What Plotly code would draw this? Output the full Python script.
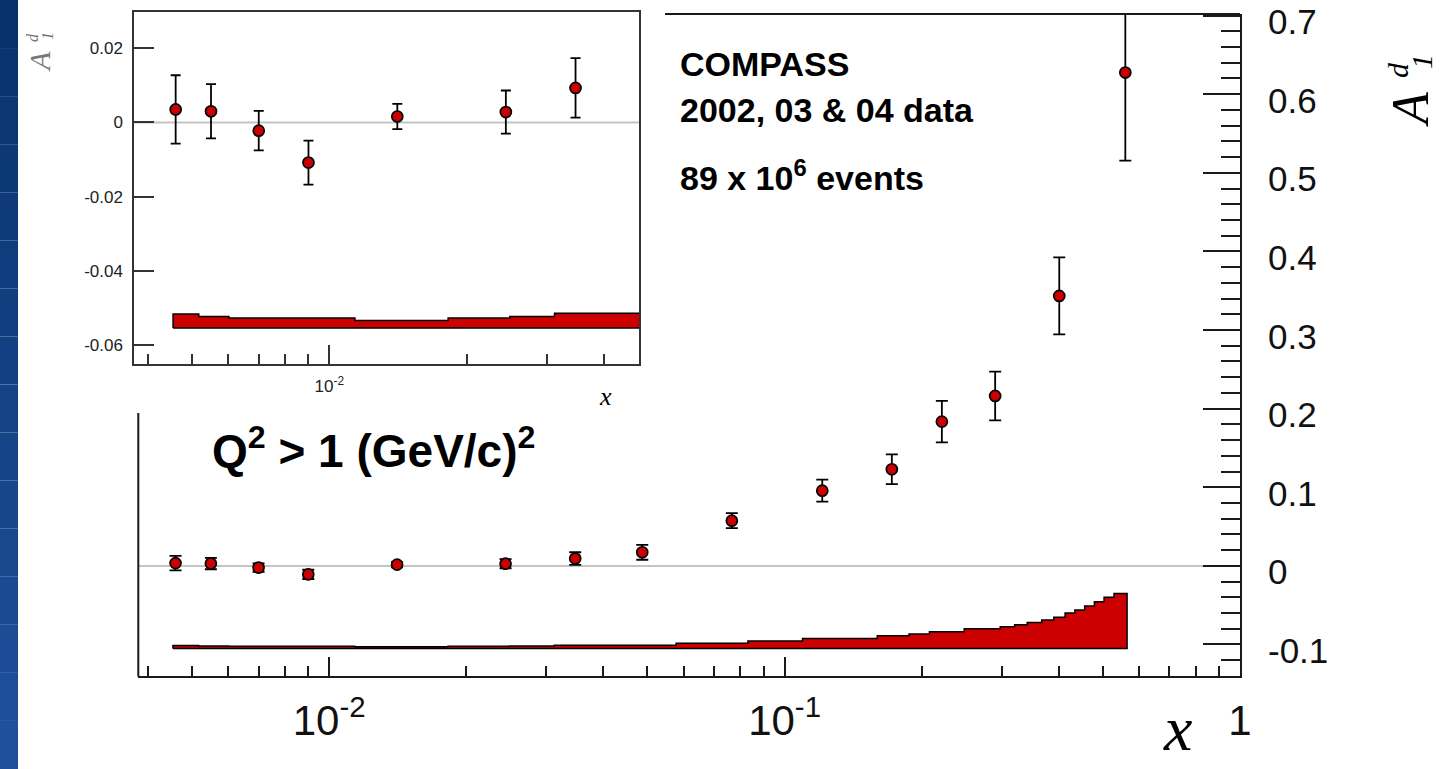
import plotly.graph_objects as go

# ---------------- data ----------------
x_bins = [0.0046, 0.0055, 0.0070, 0.0090, 0.0141, 0.0244, 0.0347, 0.0487,
          0.0766, 0.121, 0.172, 0.2215, 0.290, 0.401, 0.560]
A1d = [0.0035, 0.0030, -0.0022, -0.0108, 0.0016, 0.0028, 0.0093, 0.0173,
       0.0575, 0.0957, 0.1229, 0.1835, 0.2162, 0.3434, 0.6275]
stat_err = [0.0092, 0.0073, 0.0053, 0.0059, 0.0034, 0.0058, 0.0080, 0.0095,
            0.0096, 0.014, 0.019, 0.0265, 0.031, 0.049, 0.112]

# systematic-error band (histogram): bin edges and heights
sys_edges = [0.00454, 0.00517, 0.00602, 0.01138, 0.01823, 0.0249, 0.0312, 0.0578,
             0.0831, 0.1095, 0.1598, 0.1876, 0.208, 0.248, 0.2975, 0.320, 0.341,
             0.367, 0.390, 0.413, 0.434, 0.456, 0.479, 0.503, 0.529, 0.565]
sys_vals = [0.0038, 0.0031, 0.0027, 0.0020, 0.0027, 0.0031, 0.0040, 0.0065,
            0.0095, 0.0125, 0.0160, 0.0184, 0.0213, 0.0250, 0.0277, 0.0300,
            0.0330, 0.0362, 0.0396, 0.0450, 0.0490, 0.0540, 0.0595, 0.0650, 0.0700]
sys_base_main = -0.105
sys_base_inset = -0.0553
n_inset = 7

main_ytick_vals = [-0.1, 0.0, 0.1, 0.2, 0.3, 0.4, 0.5, 0.6, 0.7]
main_ytick_text = ["-0.1", "0", "0.1", "0.2", "0.3", "0.4", "0.5", "0.6", "0.7"]
left_major_vals = [-0.1, 0.0, 0.1]
left_minor_vals = [-0.12, -0.08, -0.06, -0.04, -0.02, 0.02, 0.04, 0.06, 0.08,
                   0.12, 0.14, 0.16, 0.18]
main_xtick_vals = [0.01, 0.1, 1.0]
main_xtick_text = ["10<sup>-2</sup>", "10<sup>-1</sup>", "1"]
main_xminor_vals = [0.004, 0.005, 0.006, 0.007, 0.008, 0.009,
                    0.02, 0.03, 0.04, 0.05, 0.06, 0.07, 0.08, 0.09,
                    0.2, 0.3, 0.4, 0.5, 0.6, 0.7, 0.8, 0.9]
inset_ytick_vals = [-0.06, -0.04, -0.02, 0.0, 0.02]
inset_ytick_text = ["-0.06", "-0.04", "-0.02", "0", "0.02"]
inset_xtick_vals = [0.01]
inset_xtick_text = ["10<sup>-2</sup>"]
inset_xminor_vals = [0.004, 0.005, 0.006, 0.007, 0.008, 0.009, 0.02, 0.03, 0.04]

# ---------------- geometry helpers ----------------
W, H = 1445, 769
def px(x):
    return x / W
def py(y):
    return 1 - y / H

SANS = "Liberation Sans, Arial, sans-serif"
SERIF = "Liberation Serif, Times New Roman, serif"
RED = "#cc0000"
AX = "#1a1a1a"


def band_xy(edges, vals, base):
    xs, ys = [edges[0]], [base]
    for i, v in enumerate(vals):
        xs += [edges[i], edges[i + 1]]
        ys += [base + v, base + v]
    xs += [edges[-1], edges[0]]
    ys += [base, base]
    return xs, ys


fig = go.Figure()

# main band
bx, by = band_xy(sys_edges, sys_vals, sys_base_main)
fig.add_trace(go.Scatter(x=bx, y=by, mode="lines", fill="toself", fillcolor=RED,
                         line=dict(color="black", width=1.5), xaxis="x", yaxis="y",
                         hoverinfo="skip", showlegend=False))
# main points
fig.add_trace(go.Scatter(x=x_bins, y=A1d, mode="markers", xaxis="x", yaxis="y",
                         marker=dict(size=11, color=RED, line=dict(color="black", width=1.7)),
                         error_y=dict(type="data", array=stat_err, color="black",
                                      thickness=1.8, width=6),
                         showlegend=False))
# inset band
ibx, iby = band_xy(sys_edges, sys_vals, sys_base_inset)
fig.add_trace(go.Scatter(x=ibx, y=iby, mode="lines", fill="toself", fillcolor=RED,
                         line=dict(color="black", width=1.5), xaxis="x2", yaxis="y2",
                         hoverinfo="skip", showlegend=False))
# inset points
fig.add_trace(go.Scatter(x=x_bins[:n_inset], y=A1d[:n_inset], mode="markers",
                         xaxis="x2", yaxis="y2",
                         marker=dict(size=11, color=RED, line=dict(color="black", width=1.7)),
                         error_y=dict(type="data", array=stat_err[:n_inset], color="black",
                                      thickness=1.8, width=5),
                         showlegend=False))

main_xdom = [px(138.3), px(1240)]
main_ydom = [py(675.7), py(14)]
ins_xdom = [px(134.3), px(639)]
ins_ydom = [py(363.7), py(11.7)]
main_yrange = [-0.1397, 0.702]

fig.update_layout(
    width=W, height=H,
    margin=dict(l=0, r=0, t=0, b=0),
    paper_bgcolor="white",
    plot_bgcolor="rgba(0,0,0,0)",
    showlegend=False,
    xaxis=dict(type="log", range=[-2.419, 0.0], domain=main_xdom, anchor="y",
               automargin=False,
               showline=True, linecolor=AX, linewidth=2, mirror=False,
               ticks="inside", ticklen=19, tickwidth=2, tickcolor=AX,
               tickmode="array", tickvals=main_xtick_vals, ticktext=main_xtick_text,
               tickfont=dict(family=SANS, size=42, color="#111"),
               ticklabelstandoff=7, ticklabeloverflow="allow",
               minor=dict(tickmode="array", tickvals=main_xminor_vals, ticks="inside",
                          ticklen=10, tickwidth=2, tickcolor=AX, showgrid=False),
               showgrid=False, zeroline=False),
    yaxis=dict(range=main_yrange, domain=main_ydom, anchor="x", side="right",
               automargin=False,
               showline=True, linecolor=AX, linewidth=2,
               ticks="inside", ticklen=37, tickwidth=2, tickcolor=AX,
               tickmode="array", tickvals=main_ytick_vals, showticklabels=False,
               minor=dict(tickmode="linear", tick0=0, dtick=0.02, ticks="inside",
                          ticklen=19, tickwidth=2, tickcolor=AX, showgrid=False),
               showgrid=False, zeroline=False),
    yaxis3=dict(range=main_yrange, overlaying="y", anchor="x", side="left",
                automargin=False,
                showline=False, ticks="inside", ticklen=37, tickwidth=2, tickcolor=AX,
                tickmode="array", tickvals=left_major_vals, showticklabels=False,
                minor=dict(tickmode="array", tickvals=left_minor_vals, ticks="inside",
                           ticklen=19, tickwidth=2, tickcolor=AX, showgrid=False),
                showgrid=False, zeroline=False),
    xaxis2=dict(type="log", range=[-2.428, -1.3204], domain=ins_xdom, anchor="y2",
                automargin=False,
                showline=True, linecolor="#333", linewidth=2, mirror=True,
                ticks="inside", ticklen=19, tickwidth=2, tickcolor="#333",
                tickmode="array", tickvals=inset_xtick_vals, ticktext=inset_xtick_text,
                tickfont=dict(family=SANS, size=17, color="#222"),
                ticklabelstandoff=6,
                minor=dict(tickmode="array", tickvals=inset_xminor_vals, ticks="inside",
                           ticklen=10, tickwidth=2, tickcolor="#333", showgrid=False),
                showgrid=False, zeroline=False),
    yaxis2=dict(range=[-0.0649, 0.0298], domain=ins_ydom, anchor="x2",
                automargin=False,
                showline=True, linecolor="#333", linewidth=2, mirror=True,
                ticks="inside", ticklen=20, tickwidth=2, tickcolor="#333",
                tickmode="array", tickvals=inset_ytick_vals, ticktext=inset_ytick_text,
                tickfont=dict(family=SANS, size=17, color="#222"),
                ticklabelstandoff=6,
                showgrid=False, zeroline=False),
)

shapes = []
# blue slide stripe (gradient from stacked bands)
n_grad = 16
c_top = (8, 50, 108)
c_bot = (30, 80, 155)
for i in range(n_grad):
    t = i / (n_grad - 1)
    c = tuple(int(round(c_top[k] + (c_bot[k] - c_top[k]) * t)) for k in range(3))
    shapes.append(dict(type="rect", xref="paper", yref="paper",
                       x0=0, x1=px(18), y0=py(H * (i + 1) / n_grad), y1=py(H * i / n_grad),
                       fillcolor="rgb(%d,%d,%d)" % c, line=dict(width=0), layer="below"))
# zero lines
shapes.append(dict(type="line", xref="x domain", yref="y", x0=0, x1=1, y0=0, y1=0,
                   line=dict(color="#c4c4c4", width=2), layer="below"))
shapes.append(dict(type="line", xref="x2 domain", yref="y2", x0=0, x1=1, y0=0, y1=0,
                   line=dict(color="#c4c4c4", width=2), layer="below"))
# partial main frame lines (top and left are hidden behind the inset picture)
shapes.append(dict(type="line", xref="paper", yref="paper", x0=px(665), x1=px(1240),
                   y0=py(14), y1=py(14), line=dict(color=AX, width=2)))
shapes.append(dict(type="line", xref="paper", yref="paper", x0=px(138.3), x1=px(138.3),
                   y0=py(413), y1=py(676.5), line=dict(color=AX, width=2)))
fig.update_layout(shapes=shapes)

ann = []
def add_text(text, x, y, size, family=SANS, color="#000", xanchor="left",
             yanchor="middle", angle=0):
    ann.append(dict(text=text, x=px(x), y=py(y), xref="paper", yref="paper",
                    showarrow=False, xanchor=xanchor, yanchor=yanchor,
                    textangle=angle, font=dict(family=family, size=size, color=color)))

# right-hand y tick labels, placed on the y scale (slightly below each tick, as in ROOT)
for v, t in zip(main_ytick_vals, main_ytick_text):
    ann.append(dict(text=t, x=px(1266), y=v, xref="paper", yref="y", yshift=-6,
                    showarrow=False, xanchor="left", yanchor="middle",
                    font=dict(family=SANS, size=35, color="#111")))

add_text("<b>COMPASS</b>", 678, 64, 34)
add_text("<b>2002, 03 &amp; 04 data</b>", 678, 110, 34)
add_text("<b>89 x 10<sup>6</sup> events</b>", 678, 175, 34)
add_text("<b>Q<sup>2</sup> &gt; 1 (GeV/c)<sup>2</sup></b>", 210, 448, 46)
add_text("<i>x</i>", 1177, 728, 64, family=SERIF, xanchor="center")
add_text("<i>x</i>", 605, 396, 26, family=SERIF, xanchor="center")
# right-hand axis title A_1^d (rotated)
add_text("<i>A</i>", 1410, 110, 52, family=SERIF, xanchor="center", angle=-90)
add_text("<i>d</i>", 1397, 70, 30, family=SERIF, xanchor="center", angle=-90)
add_text("<i>1</i>", 1422, 62, 30, family=SERIF, xanchor="center", angle=-90)
# inset axis title
add_text("<i>A</i>", 40, 62, 30, family=SERIF, color="#777", xanchor="center", angle=-90)
add_text("<i>d</i>", 32, 38, 16, family=SERIF, color="#777", xanchor="center", angle=-90)
add_text("<i>1</i>", 48, 36, 16, family=SERIF, color="#777", xanchor="center", angle=-90)
fig.update_layout(annotations=ann)

fig.write_html("out.html")
